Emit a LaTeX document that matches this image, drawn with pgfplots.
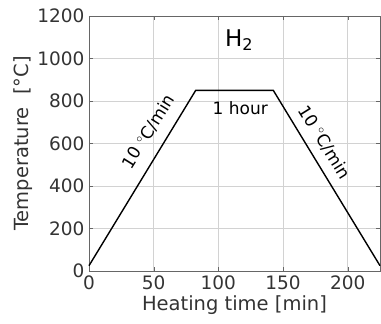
\documentclass[border=0pt]{standalone}
\usepackage{pgfplots}
\pgfplotsset{compat=1.18}
\usepackage{fontspec}
\setmainfont{DejaVu Sans}
\begin{document}
\begin{tikzpicture}
\useasboundingbox (-89pt,-53pt) rectangle (292pt,271pt);
\begin{axis}[
  scale only axis,
  width=291pt, height=255pt,
  xmin=0, xmax=225, ymin=0, ymax=1200,
  xtick={0,50,100,150,200},
  ytick={0,200,400,600,800,1000,1200},
  grid=major,
  major grid style={gray!35, line width=0.6pt},
  axis line style={black!60, line width=0.8pt},
  tick style={black!60},
  tick align=inside,
  major tick length=4pt,
  /pgf/number format/assume math mode=true,
  /pgf/number format/1000 sep={},
  ticklabel style={font=\fontsize{18.5}{21}\selectfont, text=black!80},
  xticklabel style={yshift=-1pt},
  yticklabel style={xshift=-1pt},
  xlabel={Heating time [min]},
  ylabel={Temperature\ \ [°C]},
  label style={font=\fontsize{19.5}{22}\selectfont, text=black!80},
  xlabel style={yshift=1pt},
  ylabel style={yshift=-2pt},
  clip=false,
]
\addplot[black, line width=1.4pt] coordinates {(0,25) (82.5,850) (142.5,850) (225,25)};
\node[font=\fontsize{23}{26}\selectfont] at (axis cs:116,1085) {H\textsubscript{2}};
\node[font=\fontsize{17}{20}\selectfont] at (axis cs:117,768) {1 hour};
\node[font=\fontsize{17}{20}\selectfont, rotate=58] at (axis cs:46,655) {10 $^\circ$C/min};
\node[font=\fontsize{17}{20}\selectfont, rotate=-58] at (axis cs:182,605) {10 $^\circ$C/min};
\end{axis}
\end{tikzpicture}
\end{document}
